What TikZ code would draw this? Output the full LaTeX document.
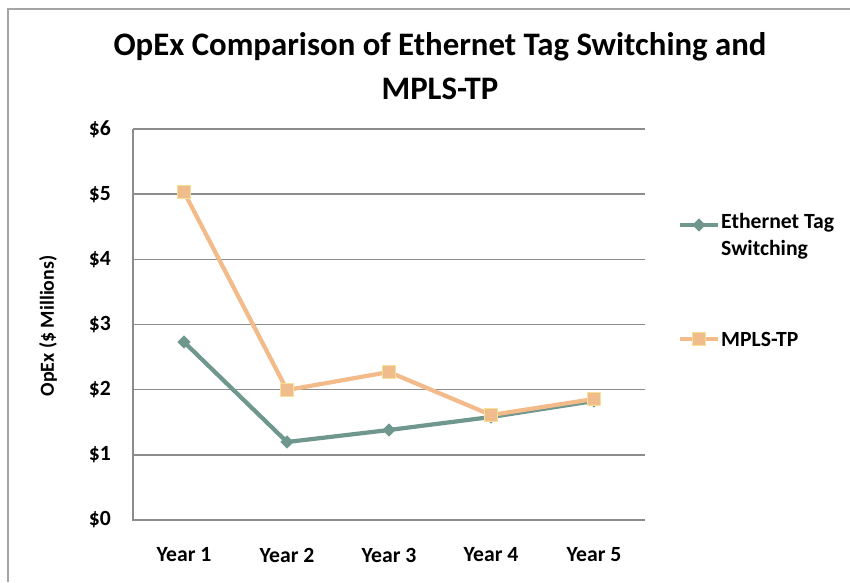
\documentclass[tikz,border=0pt]{standalone}
\usepackage{fontspec}
\setmainfont{Carlito}
\usetikzlibrary{shapes.geometric}
\definecolor{gridgray}{RGB}{140,140,140}
\definecolor{framegray}{RGB}{165,165,165}
\definecolor{ethteal}{RGB}{111,151,142}
\definecolor{mplsorange}{RGB}{243,186,138}
\definecolor{mplsfill}{RGB}{240,188,140}
\definecolor{mplsedge}{RGB}{246,226,150}
\tikzset{
  gridline/.style={draw=gridgray, line width=1.2pt},
  ethline/.style={draw=ethteal, line width=3.6pt},
  mplsline/.style={draw=mplsorange, line width=3.6pt},
  ethmark/.style={diamond, fill=ethteal, inner sep=0pt, minimum size=11.5pt},
  mplsmark/.style={rectangle, fill=mplsfill, draw=mplsedge, line width=0.8pt, inner sep=0pt, minimum size=11.5pt},
  ticklabel/.style={font=\bfseries\fontsize{18.5}{18.5}\selectfont, anchor=east, inner sep=0pt},
  yearlabel/.style={font=\bfseries\fontsize{18.5}{18.5}\selectfont, inner sep=0pt},
  legendlabel/.style={font=\bfseries\fontsize{18.5}{23}\selectfont, anchor=west, align=left, inner sep=0pt},
}
\begin{document}
\begin{tikzpicture}[x=0.03cm, y=-0.03cm]
  \useasboundingbox (0,0) rectangle (850,582);
  % outer frame
  \draw[framegray, line width=1.4pt] (8,582) -- (8,9) -- (850,9);
  % title
  \node[font=\bfseries\fontsize{28}{38}\selectfont, align=center] (title) at (440,66)
    {OpEx Comparison of Ethernet Tag Switching and\\MPLS-TP};
  % grid and axes
  \foreach \v in {1,...,6}
    \draw[gridline] (133,520-65.17*\v) -- (645,520-65.17*\v);
  \draw[gridline] (133,129) -- (133,520) -- (645,520);
  \foreach \v in {0,...,6}
    \node[ticklabel] (tick\v) at (111,520-65.17*\v) {\$\v};
  \foreach \i/\x in {1/184,2/287,3/389,4/491,5/594}
    \node[yearlabel] (year\i) at (\x,555) {Year \i};
  \node[font=\bfseries\fontsize{17}{17}\selectfont, rotate=90] (ylabel) at (48,326) {OpEx (\$ Millions)};
  % Ethernet Tag Switching
  \coordinate (e1) at (184,342);
  \coordinate (e2) at (287,442);
  \coordinate (e3) at (389,430);
  \coordinate (e4) at (491,417);
  \coordinate (e5) at (594,401);
  \draw[ethline] (e1) -- (e2) -- (e3) -- (e4) -- (e5);
  \foreach \i in {1,...,5}
    \node[ethmark] (em\i) at (e\i) {};
  % MPLS-TP
  \coordinate (m1) at (184,192);
  \coordinate (m2) at (287,390);
  \coordinate (m3) at (389,372);
  \coordinate (m4) at (491,415);
  \coordinate (m5) at (594,399);
  \draw[mplsline] (m1) -- (m2) -- (m3) -- (m4) -- (m5);
  \foreach \i in {1,...,5}
    \node[mplsmark] (mm\i) at (m\i) {};
  % legend
  \coordinate (le1) at (680,225);
  \coordinate (le2) at (718,225);
  \draw[ethline] (le1) -- (le2);
  \node[ethmark] (lem) at (699,225) {};
  \node[legendlabel, anchor=north west] (lelabel) at (721,213) {Ethernet Tag\\Switching};
  \coordinate (lm1) at (680,339);
  \coordinate (lm2) at (718,339);
  \draw[mplsline] (lm1) -- (lm2);
  \node[mplsmark] (lmm) at (699,339) {};
  \node[legendlabel] (lmlabel) at (721,339) {MPLS-TP};
\end{tikzpicture}
\end{document}
